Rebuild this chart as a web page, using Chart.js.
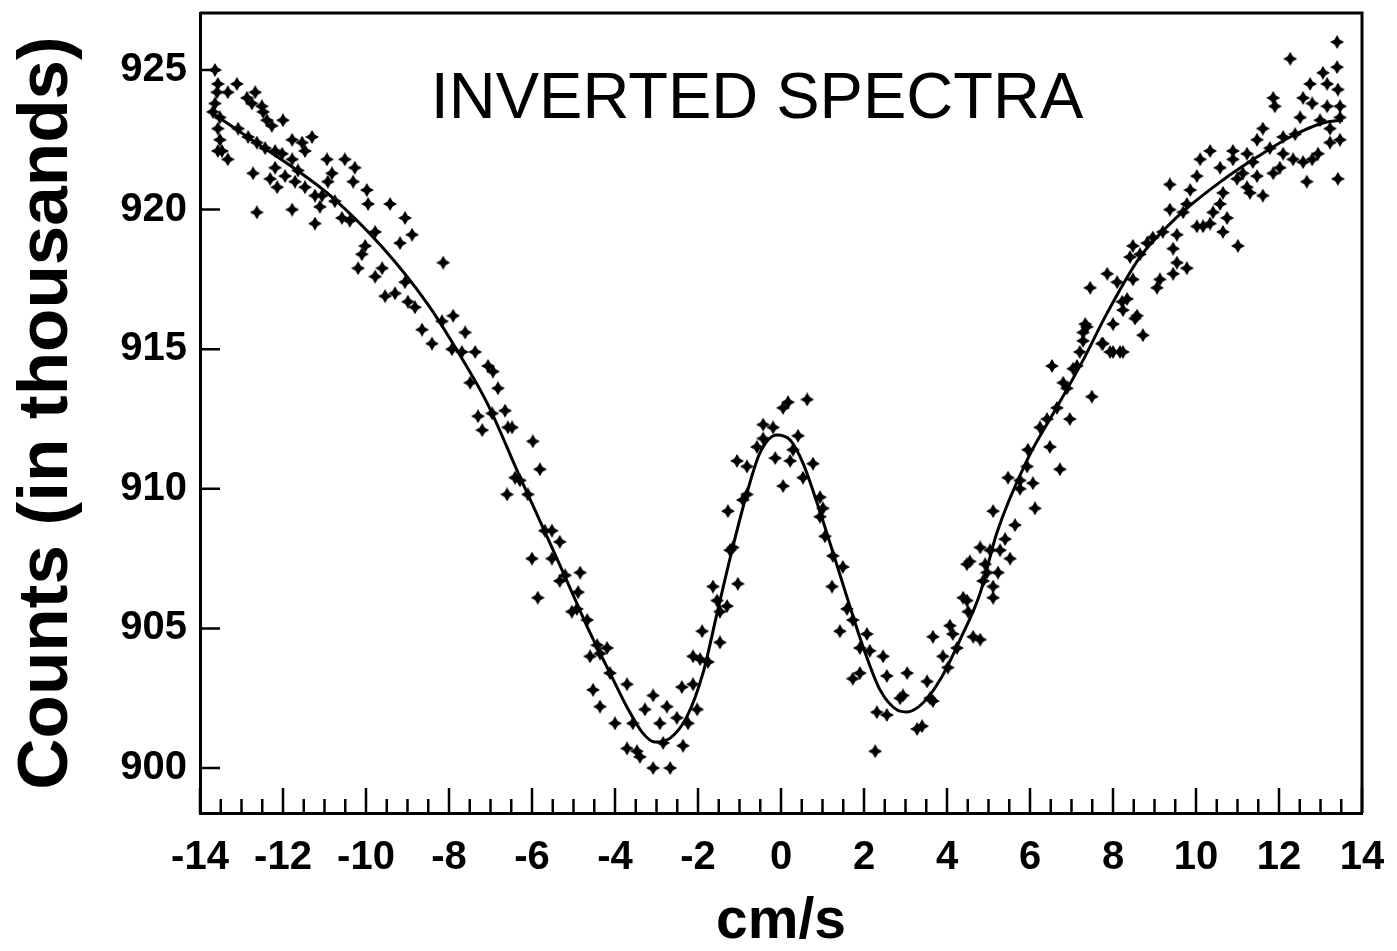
<!DOCTYPE html>
<html>
<head>
<meta charset="utf-8">
<title>Inverted spectra</title>
<script src="https://cdn.jsdelivr.net/npm/chart.js@4.4.1/dist/chart.umd.min.js"></script>
<style>
  html, body { margin: 0; padding: 0; background: #fff; }
  #chart { display: block; }
</style>
</head>
<body>
<canvas id="chart" width="1397" height="951"></canvas>
<script>
// tick labels
const xTickValues = [-14, -12, -10, -8, -6, -4, -2, 0, 2, 4, 6, 8, 10, 12, 14];
const yTickValues = [900, 905, 910, 915, 920, 925];
const xMinorPerMajor = 4; // minor ticks every 0.5 cm/s

// fitted curve
const fitX = [-13.71, -12.7, -11.75, -10.82, -9.61, -8.53, -7.81, -7.08, -6.29, -5.64, -5.01, -4.6, -4.12, -3.71, -3.33, -3.04, -2.67, -2.27, -1.88, -1.54, -1.16, -0.82, -0.51, -0.1, 0.22, 0.53, 0.87, 1.18, 1.59, 1.98, 2.39, 2.8, 3.04, 3.42, 3.83, 4.31, 4.8, 5.2, 5.93, 6.65, 7.28, 7.86, 8.65, 9.54, 10.65, 11.47, 12.27, 13.06, 13.54];
const fitY = [923.46, 922.45, 921.5, 920.45, 918.66, 916.65, 914.97, 913.07, 910.42, 908.3, 906.2, 904.84, 903.4, 902.18, 901.25, 900.93, 901.07, 901.83, 903.4, 905.55, 907.92, 909.85, 911.28, 911.93, 911.75, 910.92, 909.49, 908.06, 906.12, 904.33, 902.79, 902.08, 902.01, 902.33, 903.15, 904.58, 906.27, 908.42, 911.03, 912.93, 914.61, 916.3, 918.3, 919.73, 921.06, 921.88, 922.6, 923.1, 923.21];

// measured counts, left wing (-14 .. -6.5)
const leftX = [-13.64, -13.57, -13.59, -13.64, -13.69, -13.52, -13.57, -13.52, -13.47, -13.33, -13.57, -13.11, -13.33, -12.87, -12.67, -12.75, -12.51, -12.48, -12.39, -12.27, -12.0, -13.08, -12.84, -12.63, -12.43, -12.19, -12.02, -11.78, -11.54, -11.3, -11.47, -12.72, -12.19, -12.31, -12.14, -11.95, -11.78, -11.64, -11.71, -11.47, -11.23, -11.06, -11.11, -11.23, -12.63, -11.78, -10.94, -10.82, -10.92, -10.51, -10.27, -10.31, -9.98, -9.95, -9.42, -9.06, -8.89, -9.18, -8.14, -10.75, -10.58, -10.39, -9.78, -10.02, -10.1, -10.19, -9.78, -9.61, -9.54, -9.3, -8.99, -8.82, -9.06, -8.65, -8.41, -8.17, -7.9, -7.61, -7.93, -7.69, -7.37, -7.06, -6.94, -6.82, -7.49, -7.3, -7.2, -6.96, -6.65, -6.58];
const leftY = [925.0, 924.5, 924.2, 923.8, 923.5, 923.3, 922.9, 922.5, 922.1, 921.8, 922.1, 924.5, 924.2, 924.0, 924.2, 923.8, 923.7, 923.5, 923.2, 923.0, 923.2, 922.9, 922.6, 922.4, 922.2, 922.1, 922.0, 922.5, 922.4, 922.6, 922.1, 921.3, 921.5, 921.1, 920.8, 921.2, 921.8, 921.4, 921.0, 920.8, 920.5, 920.5, 920.1, 919.5, 919.9, 920.0, 921.8, 921.3, 921.0, 921.8, 921.5, 921.0, 920.7, 920.2, 920.2, 919.7, 919.1, 918.8, 918.1, 920.3, 919.7, 919.6, 919.2, 918.7, 918.4, 917.9, 917.6, 917.9, 916.9, 917.0, 916.7, 916.5, 917.4, 915.7, 915.2, 916.0, 916.2, 915.6, 915.0, 914.9, 914.9, 914.4, 914.2, 913.6, 913.8, 912.6, 912.1, 912.7, 912.8, 912.2];

// measured counts, centre (-6.5 .. 5.2)
const centreX = [-6.48, -5.98, -5.81, -6.41, -6.29, -6.6, -6.1, -5.69, -5.52, -5.33, -6.0, -5.52, -5.2, -4.84, -5.33, -5.86, -4.89, -5.04, -4.92, -4.67, -4.43, -4.19, -4.6, -4.36, -4.12, -3.71, -4.53, -4.36, -4.0, -3.57, -3.08, -3.28, -2.75, -2.92, -2.51, -2.02, -2.24, -2.36, -2.84, -3.71, -3.47, -3.4, -3.08, -2.67, -2.39, -2.12, -1.95, -1.76, -2.12, -1.47, -1.9, -1.3, -1.47, -1.64, -1.04, -1.54, -1.23, -1.16, -1.28, -0.92, -0.82, -1.06, -0.82, -0.58, -0.43, -0.43, -0.19, -0.14, 0.05, 0.05, 0.17, 0.63, 0.41, 0.22, 0.29, 0.77, 0.53, 0.94, 1.01, 0.94, 1.06, 1.25, 1.49, 1.23, 1.59, 1.73, 1.42, 2.07, 1.9, 2.14, 2.46, 1.73, 1.9, 2.55, 3.04, 2.87, 2.94, 2.31, 2.55, 2.27, 3.28, 3.4, 3.59, 3.66, 3.52, 3.66, 4.07, 3.9, 4.02, 4.24, 4.14, 4.63, 4.8, 4.48, 4.55, 4.39, 4.48, 5.11, 4.8, 5.04, 5.11, 4.96, 5.11];
const centreY = [912.2, 911.7, 910.7, 910.4, 910.3, 909.8, 909.8, 908.5, 908.5, 908.1, 907.5, 907.5, 906.9, 907.0, 906.7, 906.1, 906.3, 905.6, 905.7, 905.3, 904.4, 904.3, 904.0, 904.1, 903.4, 903.0, 902.8, 902.2, 901.6, 901.6, 902.6, 902.1, 902.2, 901.6, 901.8, 902.1, 901.6, 900.8, 900.9, 900.7, 900.6, 900.4, 900.0, 900.0, 902.9, 903.0, 903.9, 903.8, 904.0, 904.5, 904.9, 905.8, 905.6, 906.5, 906.6, 906.0, 907.8, 907.9, 909.2, 909.6, 909.8, 911.0, 910.8, 911.5, 911.8, 912.3, 912.2, 911.1, 910.1, 912.9, 913.1, 913.2, 911.9, 911.0, 911.4, 910.9, 910.4, 909.7, 909.3, 909.0, 908.3, 907.6, 907.2, 906.5, 905.7, 905.3, 904.9, 904.8, 904.3, 904.2, 904.0, 903.2, 903.4, 903.3, 903.4, 902.5, 902.6, 902.0, 901.9, 900.6, 901.4, 901.5, 902.5, 902.4, 903.1, 904.7, 905.1, 904.0, 903.6, 904.3, 904.8, 904.7, 904.6, 907.3, 907.4, 906.1, 906.0, 906.1, 907.9, 907.8, 909.2, 907.0, 906.5];

// measured counts, right wing (5.2 .. 13.5)
const rightX = [8.22, 8.53, 8.72, 7.33, 7.28, 7.73, 7.93, 8.17, 7.2, 6.53, 7.04, 6.8, 6.89, 7.49, 6.65, 6.41, 6.96, 6.24, 5.95, 6.48, 6.72, 5.93, 5.47, 5.76, 6.07, 5.76, 6.12, 5.64, 5.4, 5.28, 5.52, 4.92, 5.23, 4.87, 4.51, 13.4, 12.27, 13.4, 13.06, 12.75, 13.16, 13.42, 12.58, 12.8, 13.16, 13.47, 12.51, 12.99, 13.23, 13.47, 13.47, 13.23, 12.39, 12.1, 11.86, 11.9, 11.61, 11.47, 11.78, 12.1, 12.34, 12.58, 12.94, 12.8, 12.02, 11.86, 12.67, 13.42, 11.23, 11.37, 11.13, 10.99, 11.47, 11.23, 11.3, 11.61, 10.89, 10.89, 10.34, 10.58, 10.1, 10.02, 9.37, 9.86, 9.78, 9.69, 9.37, 10.65, 10.58, 10.41, 10.34, 10.65, 10.17, 10.02, 10.75, 11.01, 9.54, 9.2, 8.96, 8.82, 8.48, 8.65, 8.41, 9.45, 9.54, 9.78, 9.45, 9.06, 9.13, 7.86, 8.1, 8.48, 7.45, 8.34, 8.24, 8.0, 7.37, 7.28, 7.76, 8.0, 8.24, 8.58, 7.13];
const rightY = [916.7, 916.1, 915.5, 915.9, 915.6, 915.2, 914.9, 914.9, 914.9, 914.4, 914.3, 913.8, 913.6, 913.3, 912.9, 912.5, 912.5, 912.2, 911.4, 911.5, 910.7, 910.8, 910.4, 910.3, 910.2, 910.0, 909.3, 908.7, 908.2, 907.8, 907.5, 907.3, 907.0, 906.7, 905.6, 926.0, 925.4, 925.1, 924.9, 924.5, 924.5, 924.3, 924.0, 923.8, 923.7, 923.7, 923.3, 923.2, 922.9, 923.3, 922.5, 922.4, 922.7, 922.6, 924.0, 923.7, 922.9, 922.5, 922.2, 922.0, 921.8, 921.7, 922.0, 921.8, 921.5, 921.3, 921.0, 921.1, 922.0, 921.7, 921.3, 921.1, 921.2, 920.8, 920.6, 920.5, 922.1, 921.8, 922.1, 921.5, 921.8, 921.2, 920.9, 920.7, 920.2, 919.9, 920.0, 920.6, 920.2, 919.9, 919.5, 919.2, 919.4, 919.4, 919.7, 918.7, 919.1, 919.2, 919.0, 918.8, 918.7, 918.4, 918.3, 918.6, 918.1, 917.9, 917.7, 917.2, 917.5, 917.7, 917.4, 917.5, 917.2, 916.8, 916.4, 915.9, 915.8, 915.3, 915.2, 914.9, 914.9, 916.2, 914.4];

const countsX = leftX.concat(centreX, rightX);
const countsY = leftY.concat(centreY, rightY);

// small filled four-point star used as the data marker
function makeStar() {
    const c = document.createElement('canvas');
    c.width = 14; c.height = 14;
    const g = c.getContext('2d');
    g.fillStyle = '#000';
    g.beginPath();
    g.moveTo(7, 0); g.lineTo(9.6, 4.4); g.lineTo(14, 7); g.lineTo(9.6, 9.6);
    g.lineTo(7, 14); g.lineTo(4.4, 9.6); g.lineTo(0, 7); g.lineTo(4.4, 4.4);
    g.closePath();
    g.fill();
    return c;
}

// frame + inward tick marks + caption inside the plot
const framePlugin = {
    id: 'frame',
    afterDraw(chart) {
        const { ctx, chartArea: a, scales: { x, y } } = chart;
        ctx.save();
        ctx.strokeStyle = '#000';
        ctx.lineWidth = 3;
        ctx.lineCap = 'butt';
        ctx.beginPath();
        ctx.moveTo(a.left, a.top); ctx.lineTo(a.right, a.top); ctx.lineTo(a.right, a.bottom);
        ctx.stroke();

        ctx.lineWidth = 2.5;
        ctx.beginPath();
        for (let i = 0; i < xTickValues.length; i++) {
            const px = x.getPixelForValue(xTickValues[i]);
            ctx.moveTo(px, a.bottom); ctx.lineTo(px, a.bottom - 25);
            if (i < xTickValues.length - 1) {
                const step = (xTickValues[i + 1] - xTickValues[i]) / xMinorPerMajor;
                for (let k = 1; k < xMinorPerMajor; k++) {
                    const mx = x.getPixelForValue(xTickValues[i] + k * step);
                    ctx.moveTo(mx, a.bottom); ctx.lineTo(mx, a.bottom - 14);
                }
            }
        }
        yTickValues.forEach(v => {
            const py = y.getPixelForValue(v);
            ctx.moveTo(a.left, py); ctx.lineTo(a.left + 20, py);
        });
        ctx.stroke();

        ctx.fillStyle = '#000';
        ctx.font = '65px "Liberation Sans", Arial, sans-serif';
        ctx.textAlign = 'center';
        ctx.textBaseline = 'alphabetic';
        ctx.fillText('INVERTED SPECTRA', a.left + 557, a.top + 105);
        ctx.restore();
    }
};

const tickFont = { family: '"Liberation Sans", Arial, sans-serif', size: 40, weight: 'bold' };

new Chart(document.getElementById('chart'), {
    type: 'scatter',
    data: {
        datasets: [
            {
                label: 'fit',
                type: 'line',
                data: fitX.map((v, i) => ({ x: v, y: fitY[i] })),
                borderColor: '#000',
                borderWidth: 3,
                pointRadius: 0,
                fill: false,
                cubicInterpolationMode: 'monotone'
            },
            {
                label: 'counts',
                data: countsX.map((v, i) => ({ x: v, y: countsY[i] })),
                pointStyle: makeStar(),
                pointRadius: 7,
                backgroundColor: '#000',
                borderColor: '#000'
            }
        ]
    },
    options: {
        responsive: false,
        animation: false,
        layout: { padding: { top: 13, right: 35, left: 0, bottom: 0 } },
        plugins: { legend: { display: false }, tooltip: { enabled: false } },
        scales: {
            x: {
                type: 'linear',
                min: -14,
                max: 14,
                afterBuildTicks: s => { s.ticks = xTickValues.map(v => ({ value: v })); },
                afterFit: s => { s.height = 138; s.paddingLeft = 0; s.paddingRight = 0; },
                ticks: { color: '#000', font: tickFont, padding: 21, maxRotation: 0 },
                grid: { drawOnChartArea: false, drawTicks: false },
                border: { display: true, color: '#000', width: 3 },
                title: {
                    display: true,
                    text: 'cm/s',
                    color: '#000',
                    font: { family: '"Liberation Sans", Arial, sans-serif', size: 57, weight: 'bold', lineHeight: 1 },
                    padding: { top: 0, bottom: 0 }
                }
            },
            y: {
                min: 898.39,
                max: 927.04,
                afterBuildTicks: s => { s.ticks = yTickValues.map(v => ({ value: v })); },
                afterFit: s => { s.width = 200; s.paddingTop = 0; s.paddingBottom = 0; },
                ticks: { color: '#000', font: tickFont, padding: 13 },
                grid: { drawOnChartArea: false, drawTicks: false },
                border: { display: true, color: '#000', width: 3 },
                title: {
                    display: true,
                    text: 'Counts (in thousands)',
                    color: '#000',
                    font: { family: '"Liberation Sans", Arial, sans-serif', size: 71, weight: 'bold', lineHeight: 1 },
                    padding: { top: 12, bottom: 0 }
                }
            }
        }
    },
    plugins: [framePlugin]
});
</script>
</body>
</html>
